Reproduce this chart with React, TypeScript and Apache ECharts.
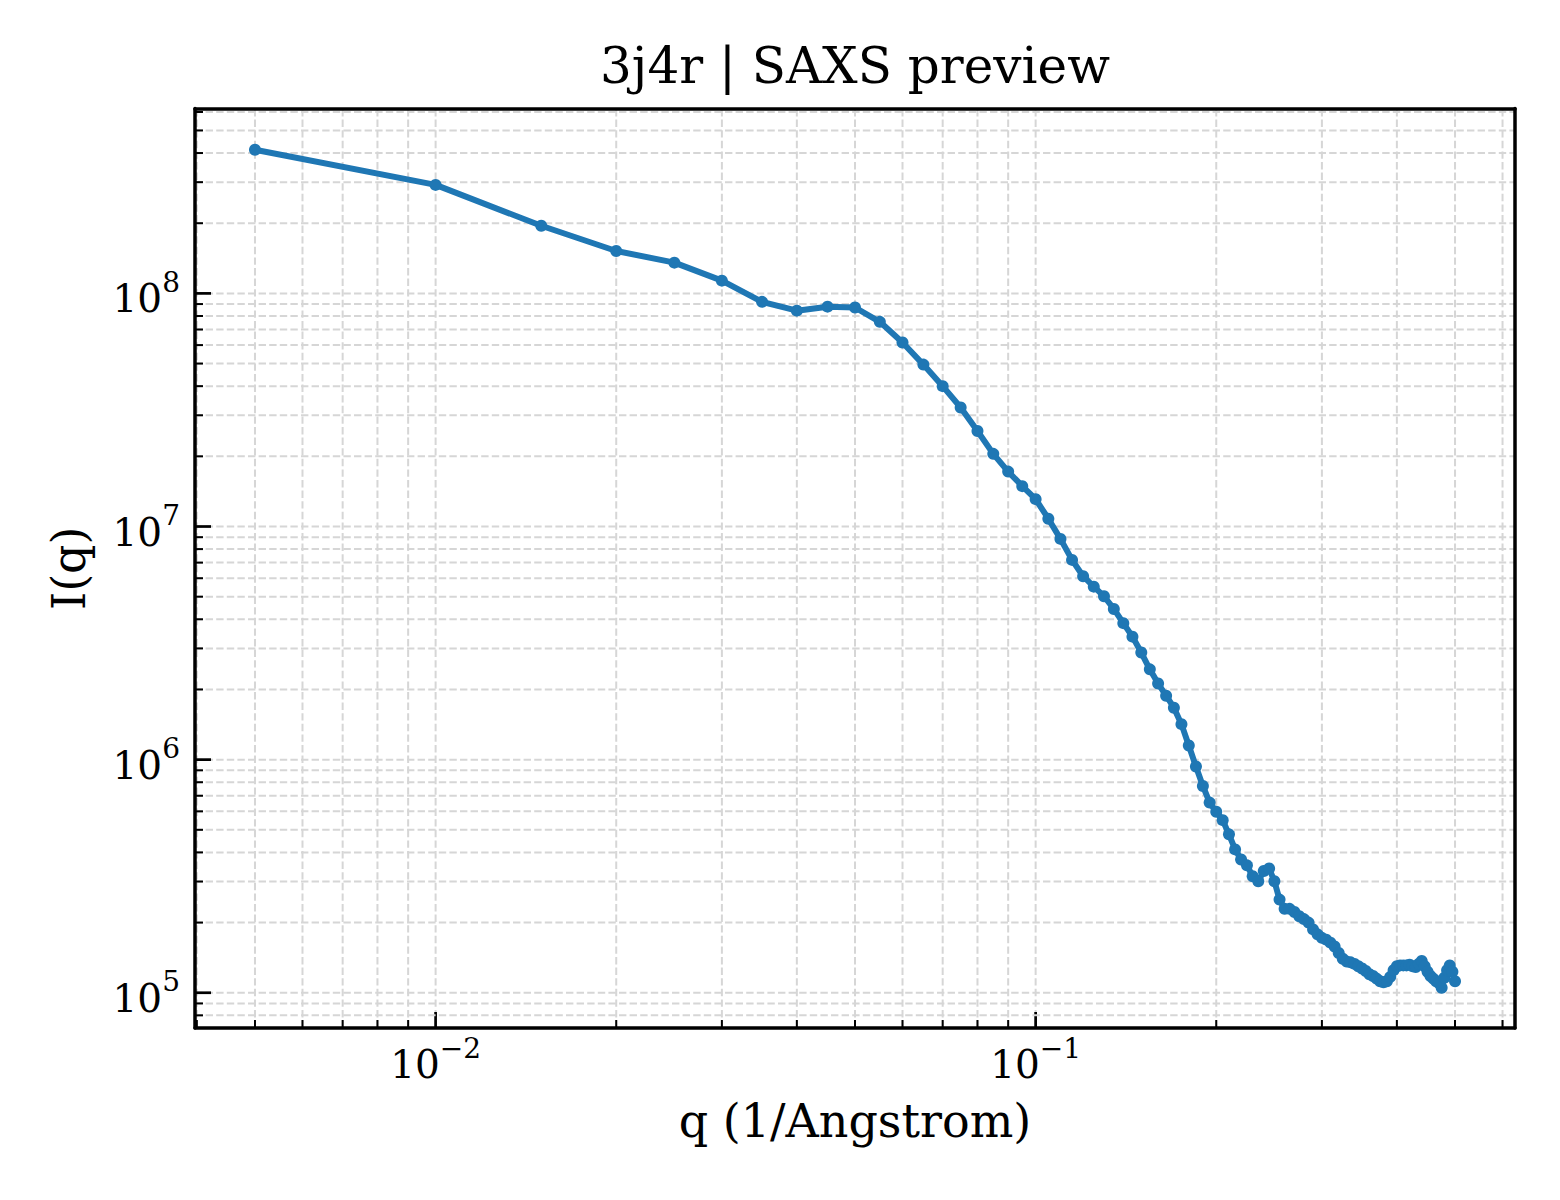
import { useEffect, useRef } from 'react';
import * as echarts from 'echarts';

const Q = [
  0.005, 0.01, 0.015, 0.02, 0.025, 0.03, 0.035, 0.04, 0.045, 0.05,
  0.055, 0.06, 0.065, 0.07, 0.075, 0.08, 0.085, 0.09, 0.095, 0.1,
  0.105, 0.11, 0.115, 0.12, 0.125, 0.13, 0.135, 0.14, 0.145, 0.15,
  0.155, 0.16, 0.165, 0.17, 0.175, 0.18, 0.185, 0.19, 0.195, 0.2,
  0.205, 0.21, 0.215, 0.22, 0.225, 0.23, 0.235, 0.24, 0.245, 0.25,
  0.255, 0.26, 0.265, 0.27, 0.275, 0.28, 0.285, 0.29, 0.295, 0.3,
  0.305, 0.31, 0.315, 0.32, 0.325, 0.33, 0.335, 0.34, 0.345, 0.35,
  0.355, 0.36, 0.365, 0.37, 0.375, 0.38, 0.385, 0.39, 0.395, 0.4,
  0.405, 0.41, 0.415, 0.42, 0.425, 0.43, 0.435, 0.44, 0.445, 0.45,
  0.455, 0.46, 0.465, 0.47, 0.475, 0.48, 0.485, 0.49, 0.495, 0.5,
];

const INTENSITY = [
  4.13e8, 2.92e8, 1.95e8, 1.52e8, 1.355e8, 1.134e8, 9.2e7, 8.43e7, 8.77e7, 8.7e7,
  7.55e7, 6.16e7, 4.95e7, 4.0e7, 3.24e7, 2.57e7, 2.05e7, 1.72e7, 1.49e7, 1.31e7,
  1.08e7, 8.85e6, 7.19e6, 6.12e6, 5.52e6, 5.02e6, 4.43e6, 3.85e6, 3.37e6, 2.88e6,
  2.44e6, 2.12e6, 1.88e6, 1.67e6, 1.42e6, 1.15e6, 9.34e5, 7.71e5, 6.54e5, 5.98e5,
  5.5e5, 4.78e5, 4.12e5, 3.73e5, 3.52e5, 3.16e5, 3.01e5, 3.33e5, 3.41e5, 3.01e5,
  2.51e5, 2.29e5, 2.29e5, 2.22e5, 2.13e5, 2.07e5, 2.0e5, 1.87e5, 1.78e5, 1.72e5,
  1.69e5, 1.64e5, 1.58e5, 1.48e5, 1.4e5, 1.36e5, 1.35e5, 1.33e5, 1.3e5, 1.27e5,
  1.24e5, 1.2e5, 1.18e5, 1.15e5, 1.12e5, 1.11e5, 1.12e5, 1.17e5, 1.25e5, 1.3e5,
  1.31e5, 1.31e5, 1.31e5, 1.32e5, 1.3e5, 1.29e5, 1.33e5, 1.37e5, 1.3e5, 1.23e5,
  1.18e5, 1.15e5, 1.12e5, 1.1e5, 1.05e5, 1.16e5, 1.25e5, 1.31e5, 1.23e5, 1.12e5,
];

// axis ticks (matplotlib style log locator)
const X_MAJOR = [0.01, 0.1];
const X_MINOR = [
  0.004, 0.005, 0.006, 0.007, 0.008, 0.009,
  0.02, 0.03, 0.04, 0.05, 0.06, 0.07, 0.08, 0.09,
  0.2, 0.3, 0.4, 0.5, 0.6,
];
const Y_MAJOR = [1e5, 1e6, 1e7, 1e8];
const Y_MINOR = [
  8e4, 9e4,
  2e5, 3e5, 4e5, 5e5, 6e5, 7e5, 8e5, 9e5,
  2e6, 3e6, 4e6, 5e6, 6e6, 7e6, 8e6, 9e6,
  2e7, 3e7, 4e7, 5e7, 6e7, 7e7, 8e7, 9e7,
  2e8, 3e8, 4e8, 5e8, 6e8,
];

const X_MIN = 0.003972;
const X_MAX = 0.6294;
const Y_MIN = 70600;
const Y_MAX = 6.21e8;

const FONT = 'DejaVu Serif';
const BLUE = '#1f77b4';
const GRID_COLOR = '#d6d6d6';

const powLabel = (v: number) => {
  const e = Math.log10(v);
  const r = Math.round(e);
  if (Math.abs(e - r) > 1e-6) return '';
  return `{b|10}{s|${r < 0 ? '\u2212' + -r : r}}`;
};

const rich = {
  b: { fontFamily: FONT, fontSize: 39, lineHeight: 50, verticalAlign: 'bottom', color: '#000' },
  s: { fontFamily: FONT, fontSize: 28, lineHeight: 24, verticalAlign: 'top', color: '#000' },
};

const frameAxis = (position: string, min: number, max: number) => ({
  type: 'log',
  position,
  min,
  max,
  z: 10,
  axisLine: { show: true, onZero: false, lineStyle: { color: '#000', width: 3.5 } },
  axisTick: { show: false },
  axisLabel: { show: false },
  splitLine: { show: false },
});

export default function App() {
  const chartRef = useRef<HTMLDivElement>(null);

  useEffect(() => {
    if (!chartRef.current) return;
    document.body.style.margin = '0';
    const chart = echarts.init(chartRef.current, null, { renderer: 'svg' });

    const xTicks = [
      ...X_MAJOR.map((v) => [v, Y_MIN, 1]),
      ...X_MINOR.map((v) => [v, Y_MIN, 0]),
    ];
    const yTicks = [
      ...Y_MAJOR.map((v) => [X_MIN, v, 1]),
      ...Y_MINOR.map((v) => [X_MIN, v, 0]),
    ];

    const option = {
      animation: false,
      textStyle: { fontFamily: FONT },
      grid: { left: 195, right: 45, top: 108.5, bottom: 172 },
      graphic: [
        {
          type: 'text',
          x: 855,
          y: 66,
          style: {
            text: '3j4r | SAXS preview',
            fontFamily: FONT,
            fontSize: 50,
            fill: '#000',
            align: 'center',
            verticalAlign: 'middle',
          },
        },
      ],
      xAxis: [
        {
          type: 'log',
          min: X_MIN,
          max: X_MAX,
          z: 10,
          name: 'q (1/Angstrom)',
          nameLocation: 'middle',
          nameGap: 70,
          nameTextStyle: { fontFamily: FONT, fontSize: 46, color: '#000' },
          axisLine: { show: true, onZero: false, lineStyle: { color: '#000', width: 3.5 } },
          axisTick: { show: false },
          splitLine: { show: false },
          axisLabel: { margin: 6, formatter: powLabel, rich },
        },
        frameAxis('top', X_MIN, X_MAX),
      ],
      yAxis: [
        {
          type: 'log',
          min: Y_MIN,
          max: Y_MAX,
          z: 10,
          name: 'I(q)',
          nameLocation: 'middle',
          nameGap: 103,
          nameTextStyle: { fontFamily: FONT, fontSize: 46, color: '#000' },
          axisLine: { show: true, onZero: false, lineStyle: { color: '#000', width: 3.5 } },
          axisTick: { show: false },
          splitLine: { show: false },
          axisLabel: { margin: 15, formatter: powLabel, rich },
        },
        frameAxis('right', Y_MIN, Y_MAX),
      ],
      series: [
        {
          type: 'custom',
          silent: true,
          z: 1,
          xAxisIndex: 0,
          yAxisIndex: 0,
          encode: { x: 0, y: 1 },
          data: xTicks,
          renderItem: (_params: any, api: any) => {
            const v = api.value(0);
            const major = api.value(2) === 1;
            const p0 = api.coord([v, Y_MIN]);
            const p1 = api.coord([v, Y_MAX]);
            return {
              type: 'group',
              children: [
                {
                  type: 'line',
                  shape: { x1: p0[0], y1: p0[1], x2: p1[0], y2: p1[1] },
                  style: { stroke: GRID_COLOR, lineWidth: 2, lineDash: [7.4, 3.2] },
                },
                {
                  type: 'line',
                  shape: { x1: p0[0], y1: p0[1], x2: p0[0], y2: p0[1] - (major ? 16 : 8) },
                  style: { stroke: '#000', lineWidth: major ? 2.7 : 2 },
                },
              ],
            };
          },
        },
        {
          type: 'custom',
          silent: true,
          z: 1,
          xAxisIndex: 0,
          yAxisIndex: 0,
          encode: { x: 0, y: 1 },
          data: yTicks,
          renderItem: (_params: any, api: any) => {
            const v = api.value(1);
            const major = api.value(2) === 1;
            const p0 = api.coord([X_MIN, v]);
            const p1 = api.coord([X_MAX, v]);
            return {
              type: 'group',
              children: [
                {
                  type: 'line',
                  shape: { x1: p0[0], y1: p0[1], x2: p1[0], y2: p1[1] },
                  style: { stroke: GRID_COLOR, lineWidth: 2, lineDash: [7.4, 3.2] },
                },
                {
                  type: 'line',
                  shape: { x1: p0[0], y1: p0[1], x2: p0[0] + (major ? 16 : 8), y2: p0[1] },
                  style: { stroke: '#000', lineWidth: major ? 2.7 : 2 },
                },
              ],
            };
          },
        },
        {
          type: 'line',
          silent: true,
          z: 5,
          xAxisIndex: 0,
          yAxisIndex: 0,
          data: Q.map((q, i) => [q, INTENSITY[i]]),
          symbol: 'circle',
          symbolSize: 12,
          showSymbol: true,
          showAllSymbol: true,
          itemStyle: { color: BLUE },
          lineStyle: { color: BLUE, width: 6 },
        },
      ],
    };

    chart.setOption(option as any);

    return () => {
      chart.dispose();
    };
  }, []);

  return <div ref={chartRef} style={{ width: 1560, height: 1200 }} />;
}
